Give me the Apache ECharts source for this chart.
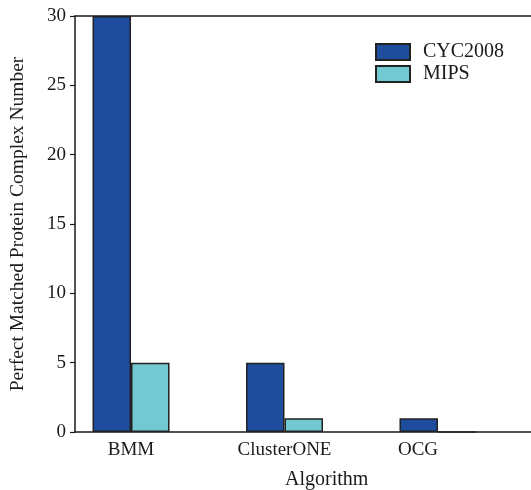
<!DOCTYPE html>
<html>
<head>
<meta charset="utf-8">
<script src="https://cdn.jsdelivr.net/npm/echarts@6/dist/echarts.min.js"></script>
<style>
  html, body { margin: 0; padding: 0; background: #fff; }
  #chart { width: 531px; height: 490px; }
</style>
</head>
<body>
<div id="chart"></div>
<script>
// data
var algorithms = ['BMM', 'ClusterONE', 'OCG'];
var groupPos = [1, 2, 3];
var labelPos = [1, 2, 2.87];
var cyc2008 = [30, 5, 1];
var mips = [5, 1, 0];
var yTicks = [0, 5, 10, 15, 20, 25, 30];

var font = 'Liberation Serif, Times New Roman, serif';
var ink = '#1a1a1a';

var chart = echarts.init(document.getElementById('chart'));

function pairs(vals) {
    return vals.map(function (v, i) { return [groupPos[i], v]; });
}

var option = {
    animation: false,
    backgroundColor: '#fff',
    grid: { left: 75, right: 0, top: 16, bottom: 58 },
    legend: {
        orient: 'vertical',
        left: 375,
        top: 42,
        padding: 0,
        itemWidth: 34,
        itemHeight: 16,
        itemGap: 2,
        icon: 'rect',
        textStyle: { fontFamily: font, fontSize: 20, lineHeight: 18, color: ink, padding: [0, 0, 0, 8] },
        data: ['CYC2008', 'MIPS']
    },
    xAxis: [{
        type: 'value',
        min: 0.635,
        max: 3.606,
        splitLine: { show: false },
        axisLine: { show: true, lineStyle: { color: ink, width: 1.5 } },
        axisTick: { show: false },
        axisLabel: {
            customValues: labelPos,
            margin: 9,
            fontFamily: font,
            fontSize: 19,
            color: ink,
            formatter: function (v) {
                var i = labelPos.indexOf(v);
                return i >= 0 ? algorithms[i] : '';
            }
        }
    }, {
        type: 'value',
        position: 'top',
        min: 0.635,
        max: 3.606,
        splitLine: { show: false },
        axisLine: { show: true, lineStyle: { color: ink, width: 1.5 } },
        axisTick: { show: false },
        axisLabel: { show: false }
    }],
    yAxis: {
        type: 'value',
        min: 0,
        max: 30,
        interval: 5,
        name: 'Perfect Matched Protein Complex Number',
        nameLocation: 'middle',
        nameGap: 47,
        nameTextStyle: { fontFamily: font, fontSize: 19.5, color: ink },
        splitLine: { show: false },
        axisLine: { show: true, lineStyle: { color: ink, width: 1.5 } },
        axisTick: { show: true, inside: false, length: 5, lineStyle: { color: ink, width: 1.2 } },
        axisLabel: {
            margin: 9,
            fontFamily: font,
            fontSize: 19,
            color: ink,
            customValues: yTicks
        }
    },
    graphic: [{
        type: 'text',
        left: 285,
        top: 470,
        style: {
            text: 'Algorithm',
            fontFamily: font,
            fontSize: 20,
            fill: ink,
            textAlign: 'center'
        }
    }],
    series: [{
        name: 'CYC2008',
        type: 'bar',
        barWidth: 38.5,
        barGap: '0%',
        data: pairs(cyc2008),
        itemStyle: { color: '#1f4d9e', borderColor: '#222', borderWidth: 1.5 }
    }, {
        name: 'MIPS',
        type: 'bar',
        barWidth: 38.5,
        barGap: '0%',
        data: pairs(mips),
        itemStyle: { color: '#73c9d2', borderColor: '#222', borderWidth: 1.5 }
    }]
};

chart.setOption(option);
</script>
</body>
</html>
